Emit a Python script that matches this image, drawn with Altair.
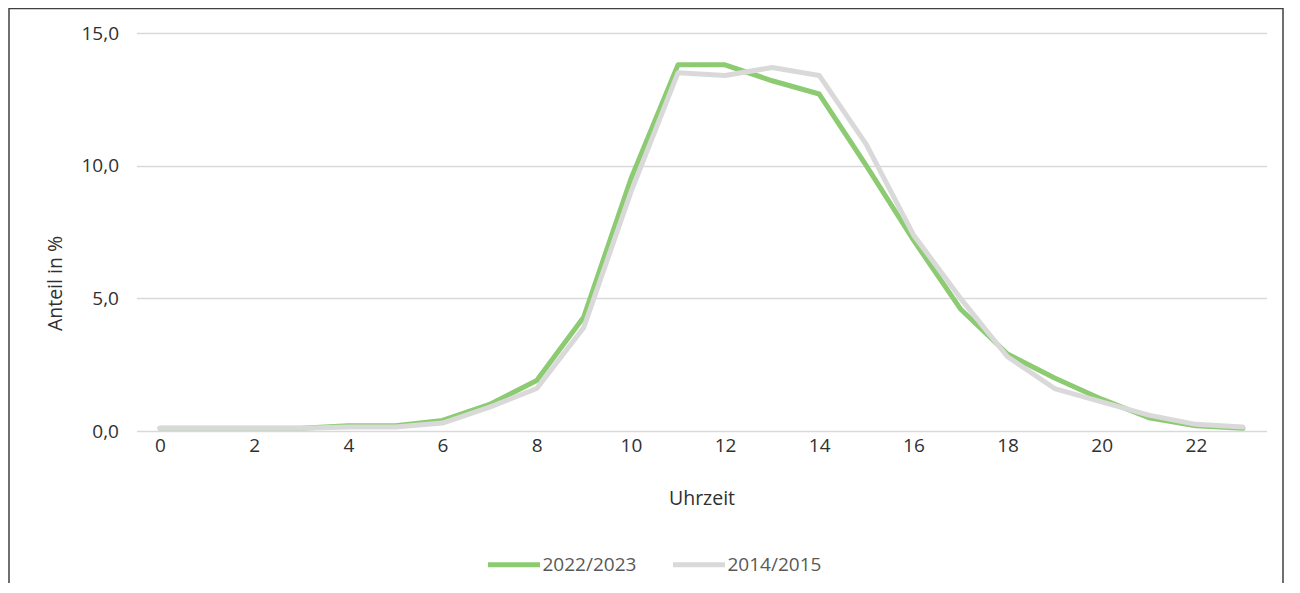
import altair as alt
import pandas as pd

hours = list(range(24))
share_2022 = [0.1, 0.1, 0.1, 0.1, 0.2, 0.2, 0.4, 1.0, 1.9, 4.3, 9.5, 13.8,
              13.8, 13.2, 12.7, 10.0, 7.2, 4.6, 2.9, 2.0, 1.2, 0.5, 0.2, 0.1]
share_2014 = [0.1, 0.1, 0.1, 0.1, 0.15, 0.15, 0.3, 0.9, 1.6, 3.9, 9.0, 13.5,
              13.4, 13.7, 13.4, 10.8, 7.4, 5.0, 2.8, 1.6, 1.1, 0.6, 0.25, 0.15]
series = ["2022/2023", "2014/2015"]
colors = ["#8CCB72", "#D9D9D9"]
x_ticks = list(range(0, 24, 2))
y_ticks = [0, 5, 10, 15]

rows = []
for name, vals in [(series[0], share_2022), (series[1], share_2014)]:
    for h, v in zip(hours, vals):
        rows.append({"Uhrzeit": h, "Anteil": v, "Serie": name,
                     "order": series.index(name)})
df = pd.DataFrame(rows)

FONT = "Open Sans"
TXT = "#303030"

lines = alt.Chart(df).mark_line(strokeWidth=5, strokeCap="round", strokeJoin="round").encode(
    x=alt.X("Uhrzeit:Q",
            scale=alt.Scale(domain=[-0.5, 23.5], nice=False, zero=False),
            axis=alt.Axis(values=x_ticks, title="Uhrzeit", grid=False, domain=False,
                          ticks=False, labelPadding=5, labelFontSize=19, labelColor=TXT,
                          labelFont=FONT, titleFont=FONT, titleFontSize=19.5,
                          titleFontWeight="normal", titleColor=TXT,
                          titleY=67, titleBaseline="middle")),
    y=alt.Y("Anteil:Q",
            scale=alt.Scale(domain=[0, 15], nice=False),
            axis=alt.Axis(values=y_ticks, title="Anteil in %", grid=True,
                          gridColor="#D9D9D9", gridWidth=1.3, domain=False, ticks=False,
                          labelPadding=18, labelFontSize=19, labelColor=TXT, labelFont=FONT,
                          labelExpr="replace(format(datum.value, '.1f'), '.', ',')",
                          titleFont=FONT, titleFontSize=19.5, titleFontWeight="normal",
                          titleColor=TXT, titleAngle=-90, titleX=-81.5, titleY=250,
                          titleAlign="center", titleBaseline="middle")),
    color=alt.Color("Serie:N", scale=alt.Scale(domain=series, range=colors),
                    sort=series,
                    legend=alt.Legend(title=None, orient="none", direction="horizontal",
                                      legendX=349, legendY=503,
                                      symbolType="stroke", symbolSize=2704,
                                      symbolStrokeWidth=5, labelFont=FONT,
                                      labelFontSize=19, labelColor="#595959",
                                      labelOffset=0, columnPadding=26)),
    order=alt.Order("order:Q", sort="descending"),
)

border = alt.Chart(pd.DataFrame({"b": [0]})).mark_rect(
    fill=None, stroke="#404040", strokeWidth=1.5
).encode(
    x=alt.value(-127.5), x2=alt.value(1146.5),
    y=alt.value(-24.5), y2=alt.value(600),
)

chart = alt.layer(lines, border).properties(
    width=1130, height=398,
    background="white",
    padding={"left": 128.5, "top": 25, "right": 25, "bottom": 152},
    autosize=alt.AutoSizeParams(type="none"),
).configure_view(strokeWidth=0, stroke="transparent")

chart.save("out.html", embed_options={"renderer": "svg", "actions": False})
